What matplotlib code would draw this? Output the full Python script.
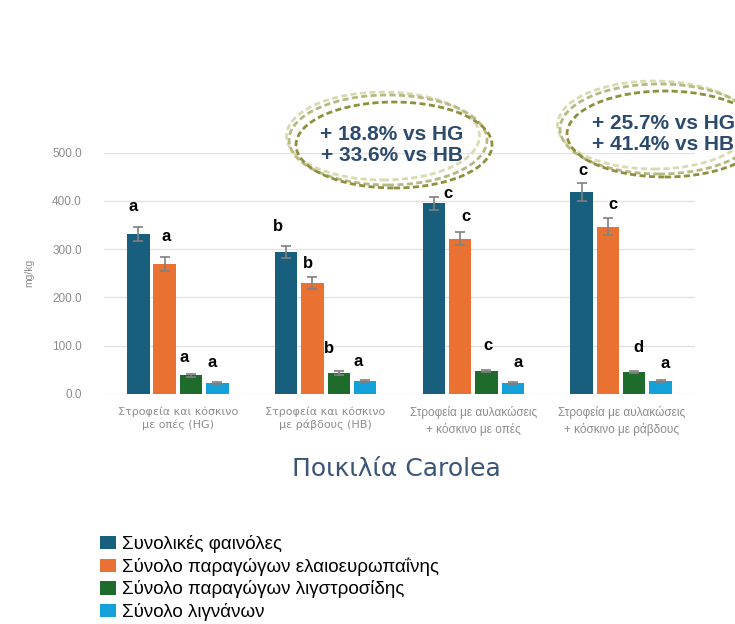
import numpy as np
import matplotlib
matplotlib.use("Agg")
import matplotlib.pyplot as plt
from matplotlib.patches import Ellipse, Patch

plt.rcParams['font.family'] = ['Liberation Sans', 'DejaVu Sans']

# categories (x tick labels, two lines each)
categories = [
    "Στροφεία και κόσκινο\nμε οπές (HG)",
    "Στροφεία και κόσκινο\nμε ράβδους (HB)",
    "Στροφεία με αυλακώσεις\n+ κόσκινο με οπές",
    "Στροφεία με αυλακώσεις\n+ κόσκινο με ράβδους",
]
series_names = [
    "Συνολικές φαινόλες",
    "Σύνολο παραγώγων ελαιοευρωπαΐνης",
    "Σύνολο παραγώγων λιγστροσίδης",
    "Σύνολο λιγνάνων",
]
colors = ["#185f7e", "#e97132", "#1e6b2b", "#14a0d8"]

# mg/kg
total_phenols = [331, 294, 395, 418]
oleuropein_der = [269, 230, 322, 347]
ligstroside_der = [39, 44, 47, 45]
lignans = [23, 27, 22, 26]

err_phenols = [14, 13, 14, 19]
err_oleuropein = [14, 12, 14, 17]
err_ligstroside = [3, 4, 2, 2]
err_lignans = [2, 2, 2, 2]

letters_phenols = ["a", "b", "c", "c"]
letters_oleuropein = ["a", "b", "c", "c"]
letters_ligstroside = ["a", "b", "c", "d"]
letters_lignans = ["a", "a", "a", "a"]

values = [total_phenols, oleuropein_der, ligstroside_der, lignans]
errors = [err_phenols, err_oleuropein, err_ligstroside, err_lignans]
letters = [letters_phenols, letters_oleuropein, letters_ligstroside, letters_lignans]

title = "Ποικιλία Carolea"
y_label = "mg/kg"
notes = [
    ("+ 18.8% vs HG\n+ 33.6% vs HB", 1),
    ("+ 25.7% vs HG\n+ 41.4% vs HB", 3),
]

# nudges (points) for the significance letters, [series][group]
letter_dx = [[-4, -6, 10, 1], [1, -3, 4, 4], [-5, -7, 1, 3], [-4, -5, 4, 3]]
letter_dy = [[15, 14, 2, 9], [15, 10, 11, 10], [12, 16, 18, 17], [14, 13, 14, 12]]

fig = plt.figure(figsize=(7.35, 6.24), dpi=100)
ax = fig.add_axes([0.1415, 0.3686, 0.804, 0.3867])

x = np.arange(len(categories))
step = 0.178
width = 0.152
for i, (vals, errs, lets) in enumerate(zip(values, errors, letters)):
    pos = x + (i - 1.5) * step
    ax.bar(pos, vals, width, color=colors[i], zorder=3)
    ax.errorbar(pos, vals, yerr=errs, fmt="none", ecolor="#808080",
                elinewidth=1.2, capsize=3.5, capthick=1.2, zorder=4)
    for j, (p, v, e, t) in enumerate(zip(pos, vals, errs, lets)):
        ax.annotate(t, (p, v + e), xytext=(letter_dx[i][j], letter_dy[i][j]),
                    textcoords="offset points", ha="center", va="center",
                    fontsize=12, fontweight="bold", color="black", zorder=5)

ax.set_xlim(-0.5, len(categories) - 0.5)
ax.set_ylim(0, 500)
ax.set_yticks(np.arange(0, 501, 100))
ax.set_yticklabels([f"{v:.1f}" for v in range(0, 501, 100)])
ax.yaxis.grid(True, color="#e2e2e2", linewidth=1, zorder=0)
ax.set_axisbelow(True)
for s in ax.spines.values():
    s.set_visible(False)
ax.tick_params(axis="y", length=0, pad=16, labelsize=8.5, labelcolor="#8c8c8c")
ax.tick_params(axis="x", length=0, pad=9, labelsize=8.5, labelcolor="#8c8c8c")
ax.set_xticks(x)
ax.set_xticklabels(categories, linespacing=1.35)
# first two labels are set wider in the original, last two condensed
for lab in ax.get_xticklabels()[:2]:
    lab.set_family(["DejaVu Sans"])
    lab.set_fontsize(8)
ax.set_ylabel(y_label, fontsize=7.5, color="#8c8c8c")
ax.yaxis.set_label_coords(-0.118, 0.5)

fig.text(396 / 735, 1 - 469 / 624, title, ha="center", va="center",
         fontsize=18, color="#3b5577", family=["DejaVu Sans"])

# dashed ovals with the percentage notes
oval_centres = {1: (390, 141), 3: (661, 130)}
rings = [
    (-7, -5, 193, 88, "#dadab2"),
    (-2, -1, 198, 90, "#b8b882"),
    (4, 4, 196, 86, "#8f8f3e"),
]
for txt, k in notes:
    cx, cy = oval_centres[k]
    for dx, dy, w, h, c in rings:
        e = Ellipse(((cx + dx) / 100, (624 - cy - dy) / 100), w / 100, h / 100,
                    transform=fig.dpi_scale_trans, fill=False, edgecolor=c,
                    linewidth=2, linestyle=(0, (2.2, 1.2)))
        fig.add_artist(e)
    fig.text((cx + 2) / 735, 1 - (cy + 4) / 624, txt, ha="center", va="center",
             fontsize=15, fontweight="bold", color="#2c4a6e", linespacing=1.15)

handles = [Patch(facecolor=c, edgecolor="none") for c in colors]
fig.legend(handles, series_names, loc="upper left",
           bbox_to_anchor=(100 / 735, 1 - 535 / 624), frameon=False,
           prop={"size": 13.5}, handlelength=0.85, handleheight=0.7,
           handletextpad=0.3, labelspacing=0.24, borderpad=0, borderaxespad=0)

fig.savefig("out.png", dpi=100)
